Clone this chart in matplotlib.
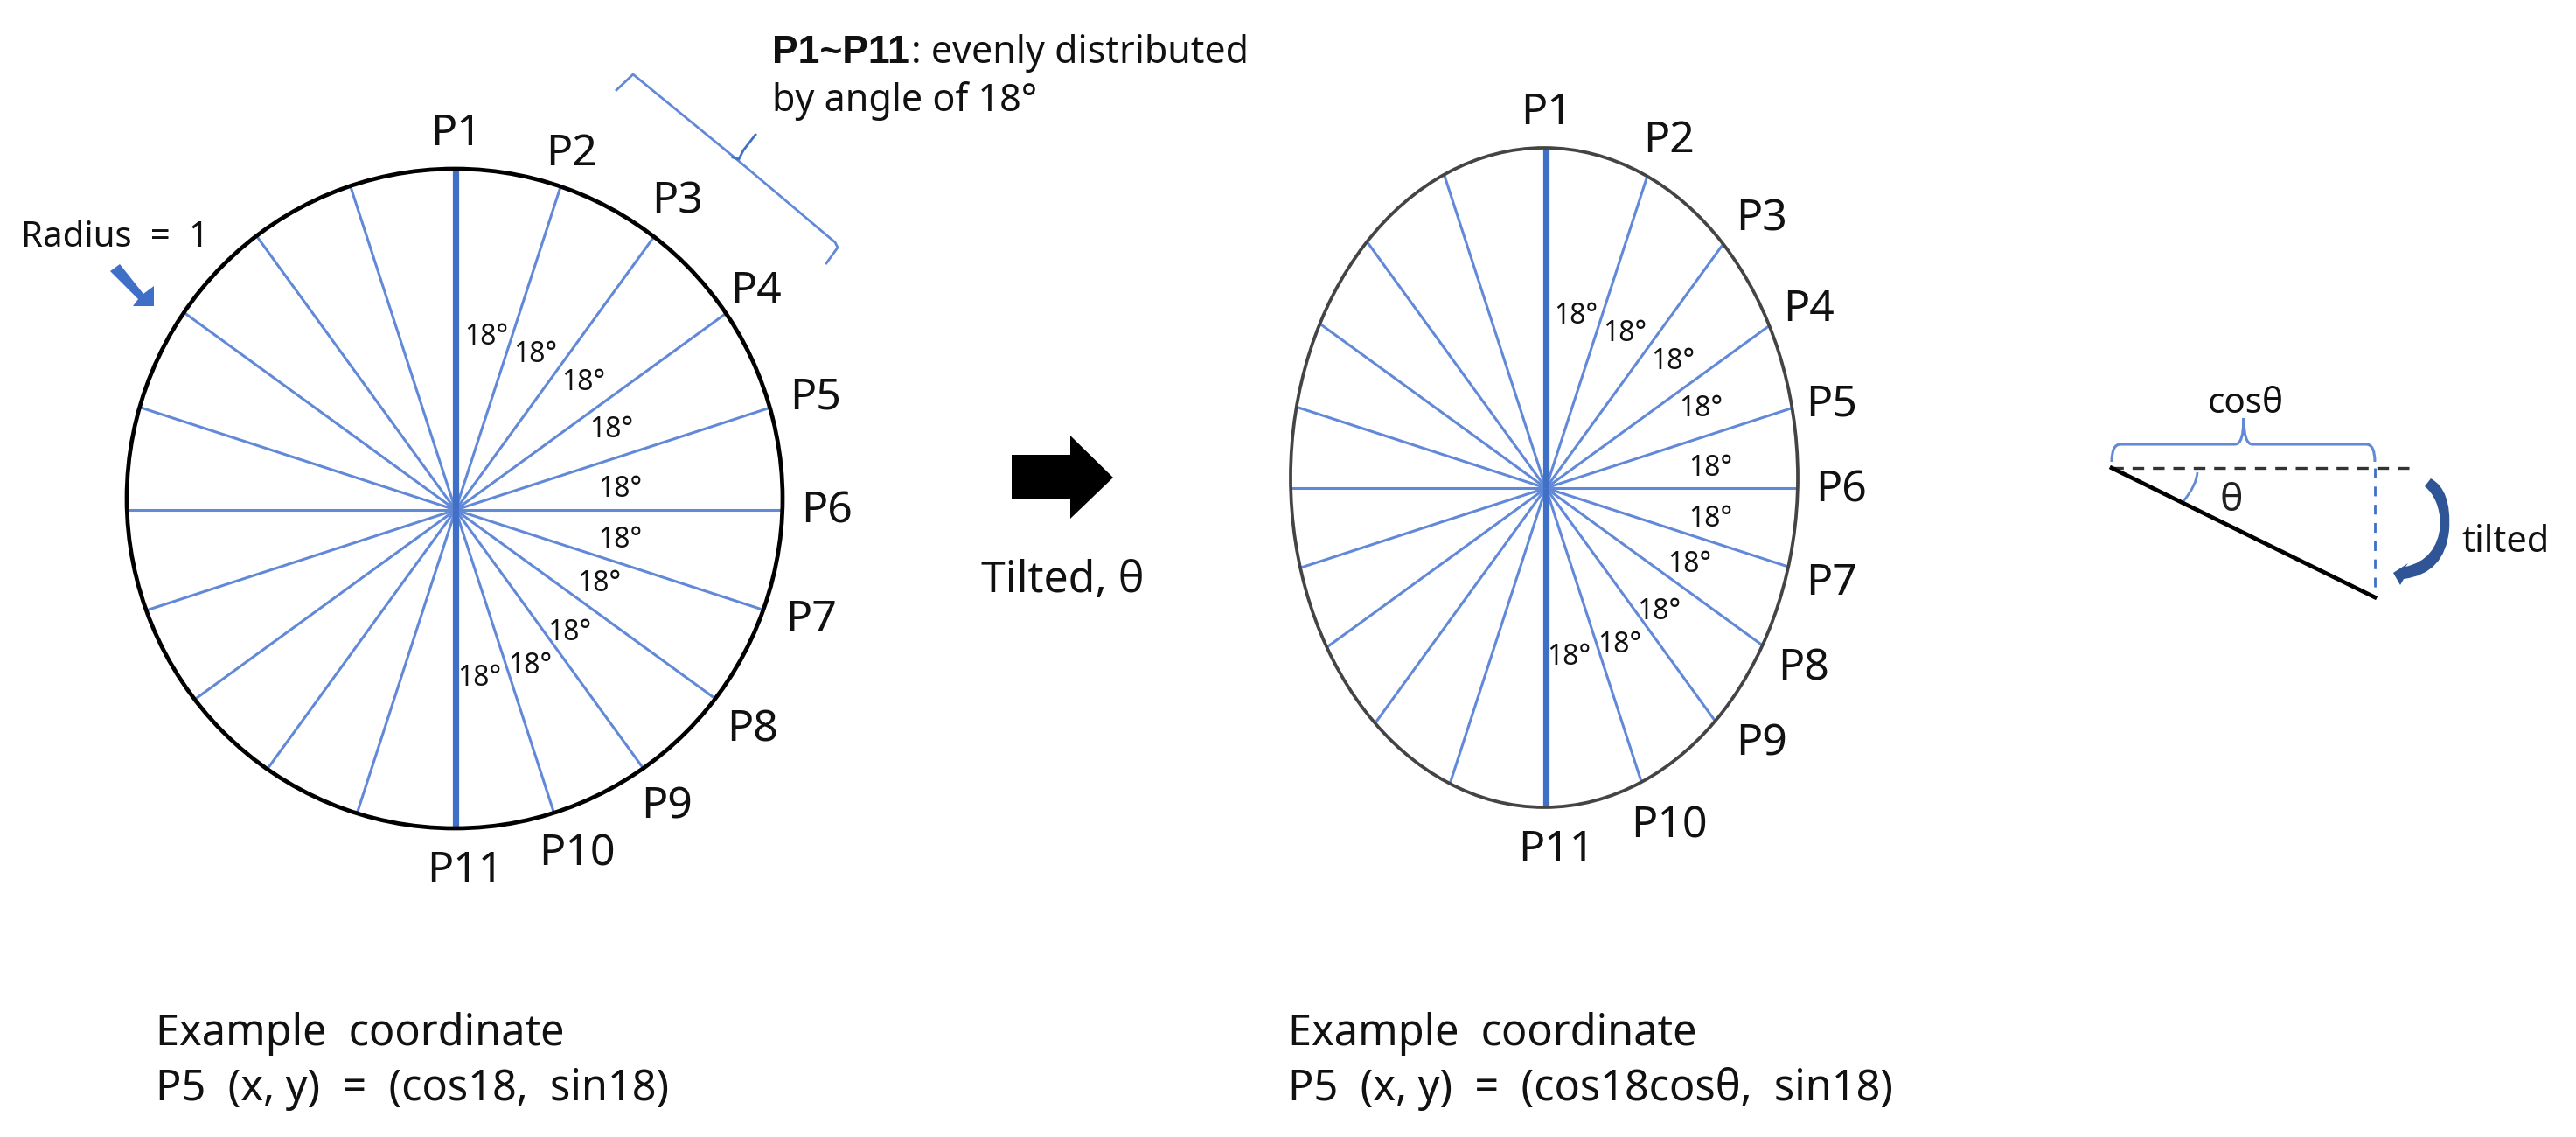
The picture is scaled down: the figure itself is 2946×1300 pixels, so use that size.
import numpy as np
import matplotlib
matplotlib.use("Agg")
import matplotlib.pyplot as plt
from matplotlib.patches import Ellipse, Polygon, PathPatch
from matplotlib.path import Path

plt.rcParams['font.family'] = ['Noto Sans', 'DejaVu Sans']

BLACK = '#111111'
BLUE = '#3F6FC6'
LIGHT_BLUE = '#6289D8'
NAVY = '#2F5597'

# angles of the spokes, clockwise from P1
spoke_angles = [0, 18, 36, 54, 72, 90, 108, 126, 144, 162]

point_names = ['P1', 'P2', 'P3', 'P4', 'P5', 'P6', 'P7', 'P8', 'P9', 'P10', 'P11']

# label centres, left circle and tilted ellipse
left_point_x = [522, 654, 774, 865, 933, 946, 928, 861, 763, 660, 532]
left_point_y = [147, 170, 224, 327, 449, 578, 703, 828, 916, 971, 990]
right_point_x = [1769, 1909, 2014, 2069, 2095, 2106, 2095, 2063, 2015, 1909, 1780]
right_point_y = [123, 155, 245, 348, 457, 555, 661, 758, 844, 939, 966]

left_deg_x = [556, 612, 667, 699, 709, 709, 685, 651, 606, 548]
left_deg_y = [381, 402, 434, 487, 556, 614, 664, 720, 757, 771]
right_deg_x = [1802, 1858, 1913, 1945, 1956, 1956, 1932, 1897, 1852, 1794]
right_deg_y = [357, 378, 410, 463, 532, 590, 641, 696, 733, 747]

# (centre x, centre y, half width, half height, hub x, hub y)
circle_shape = (520, 570, 375, 377, 521, 583)
ellipse_shape = (1766, 546, 290, 377, 1768, 558)

top_brace_x = [705, 724, 840, 955, 958, 945]
top_brace_y = [103, 85, 180, 277, 283, 301]
top_tick_x = [838, 845, 850, 864]
top_tick_y = [180, 182, 172, 154]

radius_arrow_x = [126, 137, 164, 176, 176, 152, 158]
radius_arrow_y = [310, 302, 336, 327, 350, 350, 342]

big_arrow_x = [1157, 1224, 1224, 1273, 1224, 1224, 1157]
big_arrow_y = [520, 520, 498, 546, 593, 570, 570]

# small tilt sketch
sketch_left, sketch_right = 2415, 2716
sketch_top, sketch_bottom = 535, 683
dash_end = 2761


def spoke_end(shape, angle):
    # where a ray from the hub meets the outline
    cx, cy, a, b, hx, hy = shape
    dx, dy = np.sin(np.radians(angle)), -np.cos(np.radians(angle))
    px, py = (hx - cx) / a, (hy - cy) / b
    qx, qy = dx / a, dy / b
    A = qx**2 + qy**2
    B = 2 * (px * qx + py * qy)
    C = px**2 + py**2 - 1
    t = (-B + np.sqrt(B**2 - 4 * A * C)) / (2 * A)
    return hx + t * dx, hy + t * dy


def draw_wheel(ax, shape, edge, edge_lw, names_x, names_y, deg_x, deg_y):
    cx, cy, a, b, hx, hy = shape
    for ang in spoke_angles:
        for side in [ang, ang + 180]:
            ex, ey = spoke_end(shape, side)
            if ang == 0:
                ax.plot([hx, ex], [hy, ey], color=BLUE, lw=5.2, solid_capstyle='butt', zorder=3)
            else:
                ax.plot([hx, ex], [hy, ey], color=LIGHT_BLUE, lw=2.2, solid_capstyle='butt', zorder=2)
    ax.add_patch(Ellipse((cx, cy), 2 * a, 2 * b, fill=False, ec=edge, lw=edge_lw, zorder=4))
    for name, x, y in zip(point_names, names_x, names_y):
        ax.text(x, y, name, fontsize=36, ha='center', va='center_baseline', color=BLACK)
    for x, y in zip(deg_x, deg_y):
        ax.text(x, y, '18°', fontsize=23, ha='center', va='center_baseline', color=BLACK)


fig = plt.figure(figsize=(29.46, 13), dpi=100)
ax = fig.add_axes([0, 0, 1, 1])
ax.set_xlim(0, 2946)
ax.set_ylim(1300, 0)
ax.axis('off')

draw_wheel(ax, circle_shape, 'black', 3.4, left_point_x, left_point_y, left_deg_x, left_deg_y)
draw_wheel(ax, ellipse_shape, '#444444', 2.7, right_point_x, right_point_y, right_deg_x, right_deg_y)

# annotation at the top
ax.plot(top_brace_x, top_brace_y, color=LIGHT_BLUE, lw=2.0, solid_joinstyle='round')
ax.plot(top_tick_x, top_tick_y, color=BLUE, lw=2.0)
ax.text(883, 72, 'P1~P11', fontsize=32, fontweight='bold', family='Liberation Sans', ha='left', va='baseline', color=BLACK)
ax.text(1042, 72, ': evenly distributed', fontsize=31, ha='left', va='baseline', color=BLACK)
ax.text(883, 127, 'by angle of 18°', fontsize=31, ha='left', va='baseline', color=BLACK)

ax.text(24, 282, 'Radius  =  1', fontsize=29, ha='left', va='baseline', color=BLACK)
ax.add_patch(Polygon(np.column_stack([radius_arrow_x, radius_arrow_y]), closed=True, fc=BLUE, ec='none'))

ax.add_patch(Polygon(np.column_stack([big_arrow_x, big_arrow_y]), closed=True, fc='black', ec='none'))
ax.text(1122, 677, 'Tilted, θ', fontsize=36, ha='left', va='baseline', color=BLACK)

# tilt sketch
ax.plot([sketch_left, sketch_right], [sketch_top, sketch_bottom], color='black', lw=3.4, zorder=3)
ax.plot([sketch_left, dash_end], [sketch_top, sketch_top], color='#333333', lw=2.4, ls=(0, (4, 3)))
ax.plot([sketch_right, sketch_right], [sketch_top, sketch_bottom], color=BLUE, lw=2.0, ls=(0, (4, 3.5)))
brace_path = Path(
    [(2415, 528), (2415, 508), (2425, 508), (2556, 508), (2566, 508), (2566, 478),
     (2566, 508), (2576, 508), (2706, 508), (2716, 508), (2716, 528)],
    [Path.MOVETO, Path.CURVE3, Path.CURVE3, Path.LINETO, Path.CURVE3, Path.CURVE3,
     Path.CURVE3, Path.CURVE3, Path.LINETO, Path.CURVE3, Path.CURVE3])
ax.add_patch(PathPatch(brace_path, fill=False, ec=LIGHT_BLUE, lw=2.2))
angle_path = Path([(2513, 540), (2512, 555), (2497, 573)], [Path.MOVETO, Path.CURVE3, Path.CURVE3])
ax.add_patch(PathPatch(angle_path, fill=False, ec=LIGHT_BLUE, lw=2.0))
ax.text(2552, 568, 'θ', fontsize=32, ha='center', va='center_baseline', color='#222222')
ax.text(2568, 472, 'cosθ', fontsize=29, ha='center', va='baseline', color=BLACK)
ax.text(2815, 631, 'tilted', fontsize=30, ha='left', va='baseline', color=BLACK)

curved_arrow = Path(
    [(2773, 556), (2780, 547), (2804, 560), (2801, 606), (2796, 656), (2749, 662),
     (2745, 669), (2737, 655), (2754, 644), (2751, 648), (2787, 640), (2791, 600), (2790, 570), (2773, 556)],
    [Path.MOVETO, Path.LINETO, Path.CURVE3, Path.CURVE3, Path.CURVE3, Path.CURVE3,
     Path.LINETO, Path.LINETO, Path.LINETO, Path.LINETO, Path.CURVE3, Path.CURVE3, Path.CURVE3, Path.CURVE3])
ax.add_patch(PathPatch(curved_arrow, fc=NAVY, ec='none'))

# coordinates underneath
ax.text(178, 1195, 'Example  coordinate', fontsize=35, ha='left', va='baseline', color=BLACK)
ax.text(178, 1258, 'P5  (x, y)  =  (cos18,  sin18)', fontsize=35, ha='left', va='baseline', color=BLACK)
ax.text(1473, 1195, 'Example  coordinate', fontsize=35, ha='left', va='baseline', color=BLACK)
ax.text(1473, 1258, 'P5  (x, y)  =  (cos18cosθ,  sin18)', fontsize=35, ha='left', va='baseline', color=BLACK)

fig.savefig('out.png', dpi=100, facecolor='white')
